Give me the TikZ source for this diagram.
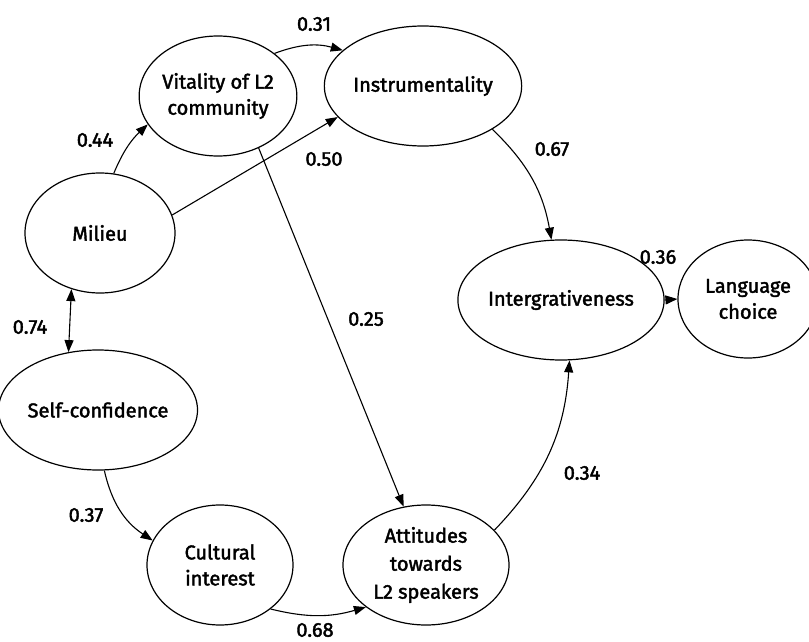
\documentclass[tikz,border=0pt]{standalone}
\usepackage{fontspec}
\setmainfont{Fira Sans}[FakeBold=2]
\usetikzlibrary{shapes.geometric,arrows.meta}
\begin{document}
\begin{tikzpicture}[x=1pt,y=-1pt,
  ell/.style={draw, ellipse, line width=1.2pt, inner sep=0pt, align=center,
    font=\fontsize{20}{26}\selectfont},
  lbl/.style={font=\fontsize{20}{22}\selectfont, inner sep=0pt},
  conn/.style={line width=1.1pt, -{Triangle[length=12pt,width=9pt]}},
  dconn/.style={line width=1.1pt, {Triangle[length=12pt,width=9pt]}-{Triangle[length=12pt,width=9pt]}}]
\useasboundingbox (0,0) rectangle (809,642);
\clip (0,0) rectangle (809,642);
% nodes
\node[ell, minimum width=150pt, minimum height=120pt] (vit) at (218,96) {Vitality of L2\\community};
\node[ell, minimum width=160pt, minimum height=120pt] (ins) at (423,86) {Instrumentality};
\node[ell, minimum width=150pt, minimum height=120pt] (mil) at (100,233) {Milieu};
\node[ell, minimum width=156pt, minimum height=120pt] (sc) at (98,410) {Self-confidence};
\node[ell, minimum width=146pt, minimum height=120pt] (ci) at (220,565) {Cultural\\interest};
\node[ell, minimum width=166pt, minimum height=120pt, font=\fontsize{20}{28}\selectfont] (att) at (426,565) {Attitudes\\towards\\L2 speakers};
\node[ell, minimum width=168pt, minimum height=120pt] (intg) at (561,300) {Intergrativeness};
\node[ell, minimum width=140pt, minimum height=118pt] (lc) at (748,299) {Language\\choice};
% connectors
\draw[conn] (vit.37) to[bend left=18] (ins.156);
\draw[conn] (mil.77) to[bend left=12] (vit.202);
\draw[conn] (mil.14) -- (ins.200);
\draw[conn] (vit.308) -- (att.111);
\draw[dconn] (mil.243) -- (sc.117);
\draw[conn] (sc.276) to[bend right=22] (ci.160);
\draw[conn] (ci.319) to[bend right=15] (att.215);
\draw[conn] (ins.328) to[bend left=18] (intg.99);
\draw[conn] (intg.east) -- (lc.west);
\draw[conn] (att.27) to[bend right=20] (intg.278);
% labels
\node[lbl] (l31) at (314,24) {0.31};
\node[lbl] (l44) at (95,140) {0.44};
\node[lbl] (l50) at (324,159) {0.50};
\node[lbl] (l25) at (366,319) {0.25};
\node[lbl] (l67) at (552,149) {0.67};
\node[lbl] (l36) at (658,257) {0.36};
\node[lbl] (l74) at (30,327) {0.74};
\node[lbl] (l37) at (86,515) {0.37};
\node[lbl] (l68) at (315,630) {0.68};
\node[lbl] (l34) at (582,473) {0.34};
\end{tikzpicture}
\end{document}
